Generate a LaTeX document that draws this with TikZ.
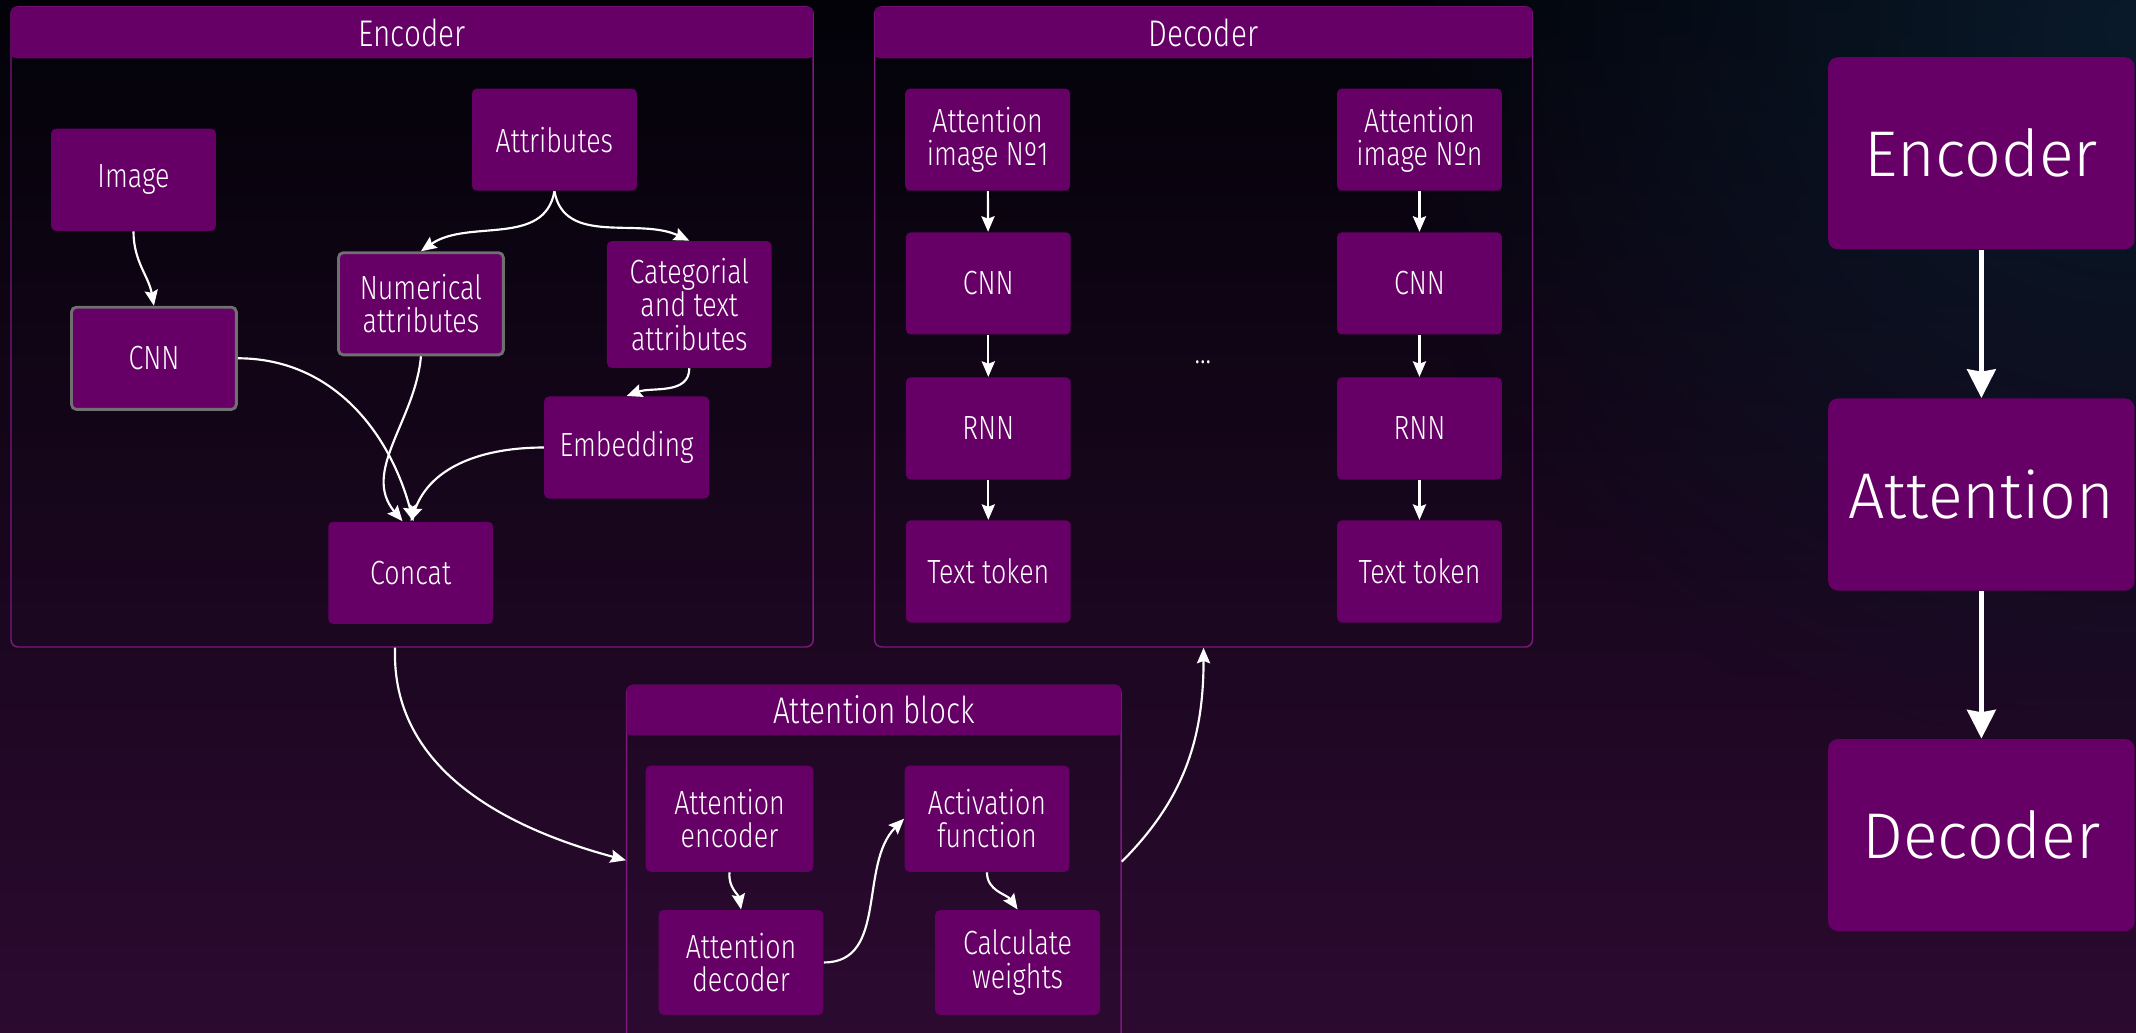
\documentclass[tikz,border=0pt]{standalone}
\usepackage{fontspec}
\setmainfont{Fira Sans Light}[FakeStretch=0.8]
\newfontfamily\bigfont{Fira Sans Light}
\usetikzlibrary{arrows.meta,positioning,fadings}

\definecolor{boxpurple}{RGB}{102,0,102}
\definecolor{framepurple}{RGB}{125,25,125}
\definecolor{edgegrey}{RGB}{112,112,112}
\definecolor{bgtop}{RGB}{2,2,8}
\definecolor{bgbottom}{RGB}{44,10,48}
\definecolor{bgblue}{RGB}{10,26,42}

\tikzfading[name=glow, inner color=transparent!0, outer color=transparent!100]

\tikzset{
  block/.style={rectangle, rounded corners=2pt, fill=boxpurple, text=white, align=center,
    minimum width=2.42cm, minimum height=1.5cm, inner sep=2pt,
    font=\fontsize{14}{14}\selectfont},
  greyblock/.style={block, draw=edgegrey, line width=1.2pt},
  groupframe/.style={rectangle, rounded corners=3pt, draw=framepurple, line width=0.6pt},
  header/.style={rectangle, rounded corners=2pt, fill=boxpurple, text=white, anchor=north,
    minimum height=0.76cm, font=\fontsize{15.5}{15.5}\selectfont},
  bigblock/.style={rectangle, rounded corners=4pt, fill=boxpurple, text=white,
    minimum width=4.5cm, minimum height=2.82cm, font=\bigfont\fontsize{27}{27}\selectfont},
  flow/.style={draw=white, line width=0.9pt, -{Stealth[length=6.5pt,width=5.5pt,inset=1pt]}},
  bigflow/.style={draw=white, line width=1.8pt, -{Stealth[length=12pt,width=12pt,inset=1pt]}}
}

\begin{document}
\begin{tikzpicture}[x=0.02cm, y=-0.02cm]
    % Background
    \useasboundingbox (0,0) rectangle (1568,758);
    \shade[top color=bgtop, bottom color=bgbottom] (0,0) rectangle (1568,758);
    \fill[bgblue, path fading=glow] (1568,20) circle (560);

    % Group frames
    \node[groupframe, minimum width=11.78cm, minimum height=9.4cm] (encframe) at (302.5,240) {};
    \node[header, minimum width=11.78cm] (enchead) at (encframe.north) {Encoder};
    \node[groupframe, minimum width=9.66cm, minimum height=9.4cm] (decframe) at (883.5,240) {};
    \node[header, minimum width=9.66cm] (dechead) at (decframe.north) {Decoder};
    \node[groupframe, minimum width=7.26cm, minimum height=5.3cm] (atnframe) at (641.5,635.5) {};
    \node[header, minimum width=7.26cm, minimum height=0.74cm] (atnhead) at (atnframe.north) {Attention block};

    % Encoder nodes
    \node[block] (img) at (98,132) {Image};
    \node[block] (attr) at (407,102.5) {Attributes};
    \node[greyblock] (cnn) at (113,263) {CNN};
    \node[greyblock] (num) at (309,223) {Numerical\\attributes};
    \node[block, minimum height=1.86cm] (cat) at (506,223.5) {Categorial\\and text\\attributes};
    \node[block] (emb) at (460,328.5) {Embedding};
    \node[block] (concat) at (301.5,420.5) {Concat};

    % Decoder nodes
    \node[block] (att1) at (725,102.5) {Attention\\image Nº1};
    \node[block] (cnn1) at (725.5,208) {CNN};
    \node[block] (rnn1) at (725.5,314.5) {RNN};
    \node[block] (tok1) at (725.5,419.5) {Text token};
    \node[block] (attn) at (1042,102.5) {Attention\\image Nºn};
    \node[block] (cnnn) at (1042,208) {CNN};
    \node[block] (rnnn) at (1042,314.5) {RNN};
    \node[block] (tokn) at (1042,419.5) {Text token};
    \node[text=white, font=\fontsize{14}{14}\selectfont] (dots) at (883,266) {...};

    % Attention block nodes
    \node[block, minimum width=2.46cm, minimum height=1.56cm] (aenc) at (535.5,601) {Attention\\encoder};
    \node[block, minimum height=1.54cm] (adec) at (544,706.5) {Attention\\decoder};
    \node[block, minimum height=1.56cm] (actf) at (724.5,601) {Activation\\function};
    \node[block, minimum height=1.54cm] (calw) at (747,706.5) {Calculate\\weights};

    % Overview nodes
    \node[bigblock] (renc) at (1454.5,112.5) {Encoder};
    \node[bigblock] (ratt) at (1454.5,363) {Attention};
    \node[bigblock] (rdec) at (1454.5,613) {Decoder};

    % Draw arrows
    \draw[flow] (img.south) to[out=-90,in=100] (cnn.north);
    \draw[flow] (attr.south) to[out=-100,in=35] (num.north);
    \draw[flow] (attr.south) to[out=-80,in=155] (cat.north);
    \draw[flow] (cat.south) to[out=-90,in=20] (emb.north);
    \draw[flow] (cnn.east) to[out=0,in=105] ([xshift=0.04cm]concat.north);
    \draw[flow] (num.south) to[out=-95,in=130] ([xshift=-0.12cm]concat.north);
    \draw[flow] (emb.west) to[out=180,in=70] (concat.north);

    \draw[flow] (att1) -- (cnn1);
    \draw[flow] (cnn1) -- (rnn1);
    \draw[flow] (rnn1) -- (tok1);
    \draw[flow] (attn) -- (cnnn);
    \draw[flow] (cnnn) -- (rnnn);
    \draw[flow] (rnnn) -- (tokn);

    \draw[flow] (aenc.south) to[out=-95,in=100] (adec.north);
    \draw[flow] (adec.east) to[out=0,in=-135] (actf.west);
    \draw[flow] (actf.south) to[out=-90,in=125] (calw.north);

    \draw[flow] ([xshift=-0.25cm]encframe.south) to[out=-92,in=165] ([yshift=0.08cm]atnframe.west);
    \draw[flow] ([yshift=0.06cm]atnframe.east) to[out=45,in=-90] (decframe.south);

    \draw[bigflow] (renc) -- (ratt);
    \draw[bigflow] (ratt) -- (rdec);
\end{tikzpicture}
\end{document}
